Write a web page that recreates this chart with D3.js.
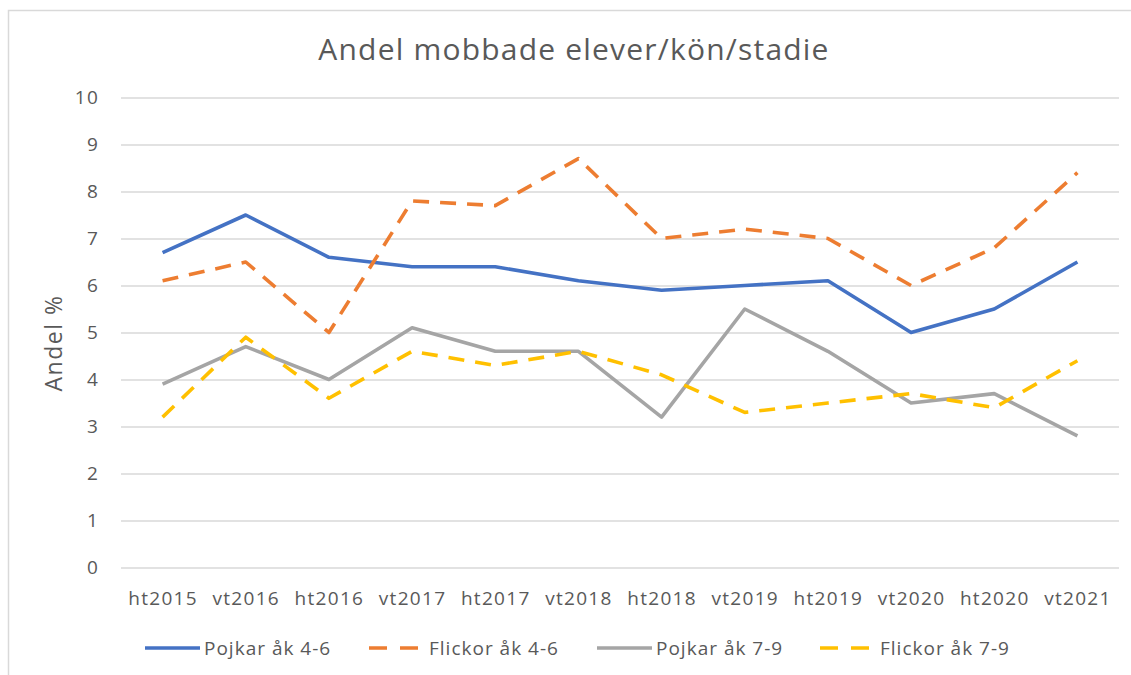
<!DOCTYPE html>
<html>
<head>
<meta charset="utf-8">
<script src="https://cdn.jsdelivr.net/npm/d3@7"></script>
<style>
  body { margin: 0; background: #fff; }
  svg { display: block; font-family: "Open Sans", sans-serif; }
</style>
</head>
<body>
<svg></svg>
<script>
// data
var periods = ["ht2015", "vt2016", "ht2016", "vt2017", "ht2017", "vt2018",
               "ht2018", "vt2019", "ht2019", "vt2020", "ht2020", "vt2021"];
var pojkar46  = [6.7, 7.5, 6.6, 6.4, 6.4, 6.1, 5.9, 6.0, 6.1, 5.0, 5.5, 6.5];
var flickor46 = [6.1, 6.5, 5.0, 7.8, 7.7, 8.7, 7.0, 7.2, 7.0, 6.0, 6.8, 8.4];
var pojkar79  = [3.9, 4.7, 4.0, 5.1, 4.6, 4.6, 3.2, 5.5, 4.6, 3.5, 3.7, 2.8];
var flickor79 = [3.2, 4.9, 3.6, 4.6, 4.3, 4.6, 4.1, 3.3, 3.5, 3.7, 3.4, 4.4];
var yTicks = [0, 1, 2, 3, 4, 5, 6, 7, 8, 9, 10];

var series = [
  {name: "Pojkar åk 4-6",  values: pojkar46,  color: "#4472C4", dash: null},
  {name: "Flickor åk 4-6", values: flickor46, color: "#ED7D31", dash: "16,11"},
  {name: "Pojkar åk 7-9",  values: pojkar79,  color: "#A5A5A5", dash: null},
  {name: "Flickor åk 7-9", values: flickor79, color: "#FFC000", dash: "16,11"}
];

var w = 1131, h = 675;
var textColor = "#595959";

var svg = d3.select("svg").attr("width", w).attr("height", h);

// chart frame (only left/top edges visible in the picture)
svg.append("rect")
    .attr("x", 8.5).attr("y", 10.5)
    .attr("width", w + 20).attr("height", h + 20)
    .attr("fill", "none")
    .attr("stroke", "#D9D9D9")
    .attr("stroke-width", 1.5);

var x = d3.scalePoint()
    .domain(periods)
    .range([121, 1119])
    .padding(0.5);

var y = d3.scaleLinear()
    .domain([0, 10])
    .range([567.5, 97.5]);

// title
svg.append("text")
    .attr("x", 574).attr("y", 60)
    .attr("text-anchor", "middle")
    .attr("fill", textColor)
    .attr("font-size", 30)
    .attr("letter-spacing", 1.2)
    .text("Andel mobbade elever/kön/stadie");

// gridlines + y labels
var yAxis = svg.append("g")
    .attr("transform", "translate(121,0)")
    .call(d3.axisLeft(y).tickValues(yTicks).tickSize(-(1119 - 121)).tickPadding(22));
yAxis.select(".domain").remove();
yAxis.selectAll(".tick line").attr("stroke", "#D9D9D9").attr("stroke-width", 1.3);
yAxis.selectAll(".tick text")
    .attr("fill", textColor)
    .attr("font-size", 19)
    .attr("letter-spacing", 1.2)
    .attr("font-family", "Open Sans, sans-serif");

// x labels
var xAxis = svg.append("g")
    .attr("transform", "translate(0,567.5)")
    .call(d3.axisBottom(x).tickSize(0).tickPadding(24));
xAxis.select(".domain").remove();
xAxis.selectAll(".tick text")
    .attr("fill", textColor)
    .attr("font-size", 19)
    .attr("letter-spacing", 1.3)
    .attr("font-family", "Open Sans, sans-serif");

// y axis title
svg.append("text")
    .attr("transform", "translate(62,343) rotate(-90)")
    .attr("text-anchor", "middle")
    .attr("fill", textColor)
    .attr("font-size", 23)
    .attr("letter-spacing", 1.5)
    .text("Andel %");

// lines
var line = d3.line()
    .x((d, i) => x(periods[i]))
    .y(d => y(d));

svg.selectAll(".series")
    .data(series)
    .enter().append("path")
    .attr("class", "series")
    .attr("d", d => line(d.values))
    .attr("fill", "none")
    .attr("stroke", d => d.color)
    .attr("stroke-width", 3.6)
    .attr("stroke-dasharray", d => d.dash)
    .attr("stroke-linejoin", "round");

// legend
var legendX = [145, 369, 597, 820];
var legend = svg.selectAll(".legend")
    .data(series)
    .enter().append("g")
    .attr("class", "legend")
    .attr("transform", (d, i) => "translate(" + legendX[i] + ",648)");

legend.append("line")
    .attr("x1", 0).attr("x2", d => d.dash ? 49 : 55)
    .attr("y1", 0).attr("y2", 0)
    .attr("stroke", d => d.color)
    .attr("stroke-width", 3.6)
    .attr("stroke-dasharray", d => d.dash ? "18,13" : null);

legend.append("text")
    .attr("x", d => d.dash ? 60 : 59)
    .attr("y", 7)
    .attr("fill", textColor)
    .attr("font-size", 19)
    .attr("letter-spacing", 1.0)
    .text(d => d.name);
</script>
</body>
</html>
